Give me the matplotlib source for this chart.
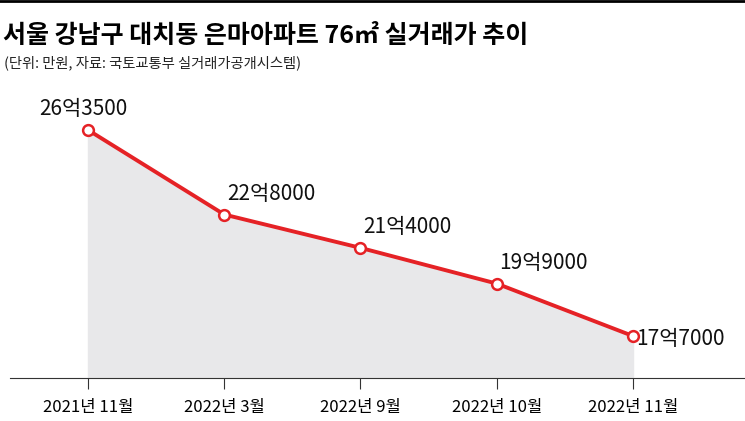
import matplotlib
matplotlib.use("Agg")
import matplotlib.pyplot as plt

plt.rcParams["font.family"] = "sans-serif"
plt.rcParams["font.sans-serif"] = ["Noto Sans CJK KR", "Noto Sans CJK JP", "Noto Sans CJK SC", "DejaVu Sans"]

categories = ["2021년 11월", "2022년 3월", "2022년 9월", "2022년 10월", "2022년 11월"]
values = [263500, 228000, 214000, 199000, 177000]
labels = ["26억3500", "22억8000", "21억4000", "19억9000", "17억7000"]
title = "서울 강남구 대치동 은마아파트 76㎡ 실거래가 추이"
subtitle = "(단위: 만원, 자료: 국토교통부 실거래가공개시스템)"

fig = plt.figure(figsize=(7.45, 4.21), dpi=100)
fig.add_artist(plt.Line2D([0, 1], [0.997, 0.997], color="black", lw=2))
fig.text(0.004, 0.915, title, fontsize=18, fontweight="bold", ha="left", va="center")
fig.text(0.006, 0.852, subtitle, fontsize=10.3, ha="left", va="center", color="#222222")

ax = fig.add_axes([0.0134, 0.1021, 0.9866, 0.708])
x = list(range(len(values)))
ymin, ymax = 159370, 284490
ax.set_xlim(-0.5725, 4.822)
ax.set_ylim(ymin, ymax)
ax.fill_between(x, values, ymin, color="#e8e8ea", zorder=1)
ax.plot(x, values, color="#e52226", lw=2.8, zorder=2)
ax.scatter(x, values, s=60, facecolor="white", edgecolor="#e52226", linewidth=1.8, zorder=3)
for xi, v, lab in zip(x, values, labels):
    ax.annotate(lab, (xi, v), xytext=(-3 if xi == 0 else 2, 7 if xi < 4 else -2),
                textcoords="offset points", ha="center" if xi == 0 else "left",
                va="bottom" if xi < 4 else "center", fontsize=15, color="#111111")
for s in ["top", "right", "left"]:
    ax.spines[s].set_visible(False)
ax.spines["bottom"].set_color("#333333")
ax.set_yticks([])
ax.set_xticks(x)
ax.set_xticklabels(categories, fontsize=12)
ax.tick_params(axis="x", length=8, color="#333333", pad=7)
fig.savefig("out.png", dpi=100)
